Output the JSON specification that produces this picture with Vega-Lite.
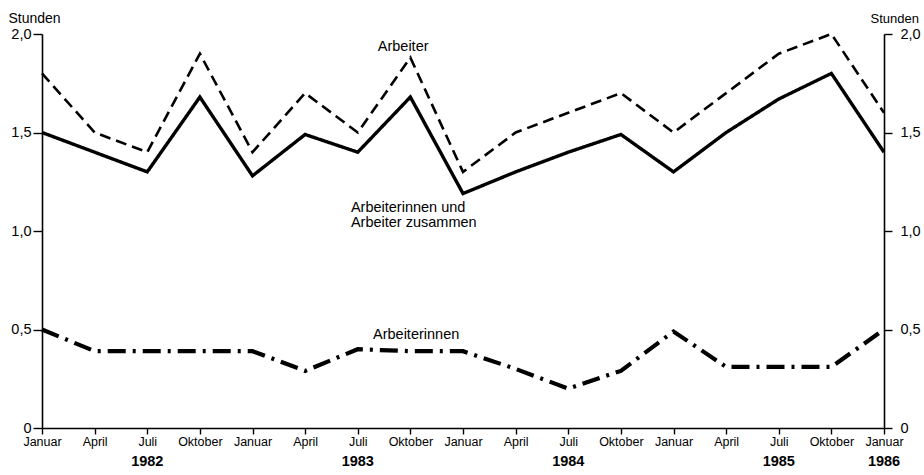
{
  "$schema": "https://vega.github.io/schema/vega-lite/v6.json",
  "width": 842,
  "height": 394,
  "autosize": {"type": "none"},
  "padding": {"left": 42, "top": 34, "right": 40, "bottom": 47},
  "background": "white",
  "config": {
    "view": {"stroke": null},
    "font": "Liberation Sans",
    "axis": {"grid": false, "domainColor": "black", "tickColor": "black", "labelColor": "black", "titleColor": "black", "domainWidth": 1.6, "tickWidth": 1.4}
  },
  "datasets": {
    "series": [
      {"i": 0, "series": "Arbeiter", "value": 1.8},
      {"i": 1, "series": "Arbeiter", "value": 1.5},
      {"i": 2, "series": "Arbeiter", "value": 1.4},
      {"i": 3, "series": "Arbeiter", "value": 1.9},
      {"i": 4, "series": "Arbeiter", "value": 1.4},
      {"i": 5, "series": "Arbeiter", "value": 1.7},
      {"i": 6, "series": "Arbeiter", "value": 1.5},
      {"i": 7, "series": "Arbeiter", "value": 1.88},
      {"i": 8, "series": "Arbeiter", "value": 1.3},
      {"i": 9, "series": "Arbeiter", "value": 1.5},
      {"i": 10, "series": "Arbeiter", "value": 1.6},
      {"i": 11, "series": "Arbeiter", "value": 1.7},
      {"i": 12, "series": "Arbeiter", "value": 1.5},
      {"i": 13, "series": "Arbeiter", "value": 1.7},
      {"i": 14, "series": "Arbeiter", "value": 1.9},
      {"i": 15, "series": "Arbeiter", "value": 2.0},
      {"i": 16, "series": "Arbeiter", "value": 1.6},
      {"i": 0, "series": "Zusammen", "value": 1.5},
      {"i": 1, "series": "Zusammen", "value": 1.4},
      {"i": 2, "series": "Zusammen", "value": 1.3},
      {"i": 3, "series": "Zusammen", "value": 1.68},
      {"i": 4, "series": "Zusammen", "value": 1.28},
      {"i": 5, "series": "Zusammen", "value": 1.49},
      {"i": 6, "series": "Zusammen", "value": 1.4},
      {"i": 7, "series": "Zusammen", "value": 1.68},
      {"i": 8, "series": "Zusammen", "value": 1.19},
      {"i": 9, "series": "Zusammen", "value": 1.3},
      {"i": 10, "series": "Zusammen", "value": 1.4},
      {"i": 11, "series": "Zusammen", "value": 1.49},
      {"i": 12, "series": "Zusammen", "value": 1.3},
      {"i": 13, "series": "Zusammen", "value": 1.5},
      {"i": 14, "series": "Zusammen", "value": 1.67},
      {"i": 15, "series": "Zusammen", "value": 1.8},
      {"i": 16, "series": "Zusammen", "value": 1.4},
      {"i": 0, "series": "Arbeiterinnen", "value": 0.5},
      {"i": 1, "series": "Arbeiterinnen", "value": 0.39},
      {"i": 2, "series": "Arbeiterinnen", "value": 0.39},
      {"i": 3, "series": "Arbeiterinnen", "value": 0.39},
      {"i": 4, "series": "Arbeiterinnen", "value": 0.39},
      {"i": 5, "series": "Arbeiterinnen", "value": 0.29},
      {"i": 6, "series": "Arbeiterinnen", "value": 0.4},
      {"i": 7, "series": "Arbeiterinnen", "value": 0.39},
      {"i": 8, "series": "Arbeiterinnen", "value": 0.39},
      {"i": 9, "series": "Arbeiterinnen", "value": 0.3},
      {"i": 10, "series": "Arbeiterinnen", "value": 0.2},
      {"i": 11, "series": "Arbeiterinnen", "value": 0.29},
      {"i": 12, "series": "Arbeiterinnen", "value": 0.49},
      {"i": 13, "series": "Arbeiterinnen", "value": 0.31},
      {"i": 14, "series": "Arbeiterinnen", "value": 0.31},
      {"i": 15, "series": "Arbeiterinnen", "value": 0.31},
      {"i": 16, "series": "Arbeiterinnen", "value": 0.5}
    ],
    "labels": [
      {"i": 6.38, "v": 1.935, "t": "Arbeiter"},
      {"i": 5.87, "v": 1.117, "t": "Arbeiterinnen und"},
      {"i": 5.87, "v": 1.04, "t": "Arbeiter zusammen"},
      {"i": 6.29, "v": 0.47, "t": "Arbeiterinnen"}
    ],
    "years": [
      {"i": 2, "year": "1982"},
      {"i": 6, "year": "1983"},
      {"i": 10, "year": "1984"},
      {"i": 14, "year": "1985"},
      {"i": 16, "year": "1986"}
    ]
  },
  "layer": [
    {
      "data": {"name": "series"},
      "mark": {"type": "line", "color": "black", "strokeCap": "butt", "strokeJoin": "miter"},
      "encoding": {
        "x": {
          "field": "i", "type": "quantitative", "title": null,
          "scale": {"domain": [0, 16], "nice": false, "zero": false},
          "axis": {
            "values": [0,1,2,3,4,5,6,7,8,9,10,11,12,13,14,15,16],
            "labelExpr": "['Januar','April','Juli','Oktober'][datum.value % 4]",
            "tickSize": 6, "labelPadding": 1, "labelFontSize": 12.5, "labelFlush": false, "labelOverlap": false
          }
        },
        "y": {
          "field": "value", "type": "quantitative",
          "scale": {"domain": [0, 2], "nice": false},
          "axis": {
            "orient": "left",
            "values": [0, 0.5, 1, 1.5, 2],
            "labelExpr": "datum.value == 0 ? '0' : replace(format(datum.value, '.1f'), '.', ',')",
            "tickSize": 9, "labelPadding": 2, "labelFontSize": 14.5,
            "title": "Stunden", "titleAngle": 0, "titleAlign": "left", "titleBaseline": "alphabetic",
            "titleX": -34, "titleY": -12, "titleFontSize": 14, "titleFontWeight": "normal"
          }
        },
        "detail": {"field": "series"},
        "strokeDash": {
          "field": "series", "type": "nominal", "legend": null,
          "scale": {"domain": ["Arbeiter", "Zusammen", "Arbeiterinnen"], "range": [[11, 6], [1, 0], [18, 7, 3, 7]]}
        },
        "strokeWidth": {
          "field": "series", "type": "nominal", "legend": null,
          "scale": {"domain": ["Arbeiter", "Zusammen", "Arbeiterinnen"], "range": [2.6, 4.2, 3.2]}
        }
      }
    },
    {
      "data": {"name": "labels"},
      "mark": {"type": "text", "align": "left", "baseline": "middle", "fontSize": 14.5, "color": "black"},
      "encoding": {
        "x": {"field": "i", "type": "quantitative", "title": null},
        "y": {
          "field": "v", "type": "quantitative",
          "axis": {
            "orient": "right",
            "values": [0, 0.5, 1, 1.5, 2],
            "labelExpr": "datum.value == 0 ? '0' : replace(format(datum.value, '.1f'), '.', ',')",
            "tickSize": 8, "labelPadding": 8, "labelFontSize": 14.5,
            "title": "Stunden", "titleAngle": 0, "titleAlign": "left", "titleBaseline": "alphabetic",
            "titleX": -14, "titleY": -12, "titleFontSize": 13, "titleFontWeight": "normal"
          }
        },
        "text": {"field": "t"}
      }
    },
    {
      "data": {"name": "years"},
      "mark": {"type": "text", "align": "center", "baseline": "middle", "fontSize": 14.5, "fontWeight": "bold", "color": "black"},
      "encoding": {
        "x": {"field": "i", "type": "quantitative", "title": null},
        "y": {"datum": -0.172, "type": "quantitative", "axis": null},
        "text": {"field": "year"}
      }
    }
  ],
  "resolve": {"axis": {"y": "independent"}}
}
